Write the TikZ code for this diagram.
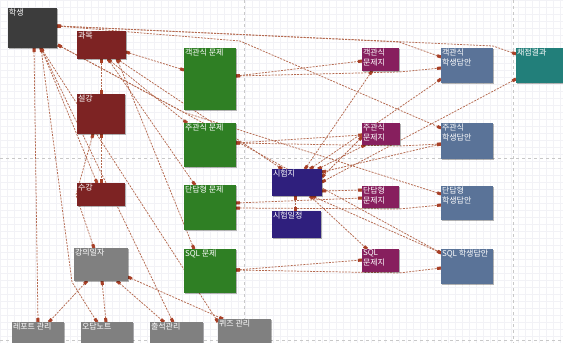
\documentclass[tikz,border=0pt]{standalone}
\usepackage{fontspec}
\newfontfamily\krfont{Noto Sans CJK KR}
\usetikzlibrary{arrows.meta,shadows,backgrounds}

\definecolor{stuc}{HTML}{3C3C3C}
\definecolor{subjc}{HTML}{7D2323}
\definecolor{greyc}{HTML}{808080}
\definecolor{greenc}{HTML}{2F7F24}
\definecolor{indigoc}{HTML}{2F1F7D}
\definecolor{purplec}{HTML}{871F5E}
\definecolor{bluec}{HTML}{5A7398}
\definecolor{tealc}{HTML}{227F7A}
\definecolor{linec}{HTML}{B4694F}
\definecolor{markc}{HTML}{A83F26}
\definecolor{gridc}{HTML}{F2F2F6}
\definecolor{pagec}{HTML}{C8C8C8}

\begin{document}
\begin{tikzpicture}[x=1pt,y=-1pt,
  ent/.style={rectangle, inner sep=0pt, outer sep=0pt, anchor=north west, draw=none,
    drop shadow={shadow xshift=1.3pt,shadow yshift=-1.3pt,opacity=0.3,fill=black}},
  tag/.style={font=\krfont\fontsize{8}{10}\selectfont, text=white, inner sep=0.8pt,
    align=left, anchor=north west},
  rel/.style={draw=linec, line width=0.75pt, dash pattern=on 2pt off 1.2pt,
    {Rectangle[length=4pt,width=3pt,color=markc]}-{Rectangle[length=4pt,width=3pt,color=markc]}}
]
\useasboundingbox (0,0) rectangle (563,343);
\clip (0,0) rectangle (563,343);

% canvas: faint grid and dashed page breaks
\begin{scope}[on background layer]
  \fill[white] (0,0) rectangle (563,343);
  \draw[gridc, line width=0.25pt] (0,0) grid[step=7pt] (563,343);
  \draw[pagec, dashed, line width=0.5pt] (244,0) -- (244,343);
  \draw[pagec, dashed, line width=0.5pt] (513,0) -- (513,343);
  \draw[pagec, dashed, line width=0.5pt] (0,158) -- (563,158);
  \draw[pagec, dashed, line width=0.5pt] (0,340) -- (563,340);
\end{scope}

% entities
\node[ent, fill=stuc, minimum width=49pt, minimum height=40pt, label={[tag]north west:학생}] (stu) at (8,8) {};
\node[ent, fill=subjc, minimum width=49pt, minimum height=28pt, label={[tag]north west:과목}] (gwa) at (77,31) {};
\node[ent, fill=subjc, minimum width=48pt, minimum height=40pt, label={[tag]north west:설강}] (seol) at (77,94) {};
\node[ent, fill=subjc, minimum width=48pt, minimum height=23pt, label={[tag]north west:수강}] (su) at (77,183) {};
\node[ent, fill=greyc, minimum width=54pt, minimum height=33pt, label={[tag]north west:강의일자}] (day) at (74,248) {};
\node[ent, fill=greyc, minimum width=52pt, minimum height=30pt, label={[tag]north west:레포트 관리}] (rep) at (12,322) {};
\node[ent, fill=greyc, minimum width=52pt, minimum height=30pt, label={[tag]north west:오답노트}] (odap) at (81,322) {};
\node[ent, fill=greyc, minimum width=53pt, minimum height=30pt, label={[tag]north west:출석관리}] (chul) at (150,322) {};
\node[ent, fill=greyc, minimum width=53pt, minimum height=30pt, label={[tag]north west:퀴즈 관리}] (quiz) at (218,319) {};

\node[ent, fill=greenc, minimum width=52pt, minimum height=62pt, label={[tag]north west:객관식 문제}] (q1) at (184,48) {};
\node[ent, fill=greenc, minimum width=52pt, minimum height=44pt, label={[tag]north west:주관식 문제}] (q2) at (184,123) {};
\node[ent, fill=greenc, minimum width=52pt, minimum height=45pt, label={[tag]north west:단답형 문제}] (q3) at (184,185) {};
\node[ent, fill=greenc, minimum width=52pt, minimum height=44pt, label={[tag]north west:SQL 문제}] (q4) at (184,249) {};

\node[ent, fill=indigoc, minimum width=50pt, minimum height=27pt, label={[tag]north west:시험지}] (exam) at (272,169) {};
\node[ent, fill=indigoc, minimum width=49pt, minimum height=27pt, label={[tag]north west:시험일정}] (sched) at (272,211) {};

\node[ent, fill=purplec, minimum width=37pt, minimum height=23pt, label={[tag]north west:{객관식\\문제지}}] (p1) at (362,48) {};
\node[ent, fill=purplec, minimum width=38pt, minimum height=22pt, label={[tag]north west:{주관식\\문제지}}] (p2) at (362,123) {};
\node[ent, fill=purplec, minimum width=37pt, minimum height=22pt, label={[tag]north west:{단답형\\문제지}}] (p3) at (362,186) {};
\node[ent, fill=purplec, minimum width=37pt, minimum height=23pt, label={[tag]north west:{SQL\\문제지}}] (p4) at (362,249) {};

\node[ent, fill=bluec, minimum width=52pt, minimum height=35pt, label={[tag]north west:{객관식\\학생답안}}] (a1) at (441,48) {};
\node[ent, fill=bluec, minimum width=52pt, minimum height=36pt, label={[tag]north west:{주관식\\학생답안}}] (a2) at (441,123) {};
\node[ent, fill=bluec, minimum width=52pt, minimum height=34pt, label={[tag]north west:{단답형\\학생답안}}] (a3) at (441,186) {};
\node[ent, fill=bluec, minimum width=52pt, minimum height=35pt, label={[tag]north west:SQL 학생답안}] (a4) at (441,249) {};

\node[ent, fill=tealc, minimum width=52pt, minimum height=35pt, label={[tag]north west:채점결과}] (score) at (516,48) {};

% relationships
\begin{scope}[on background layer]
  % course side
  \draw[rel] ([shift={(24,28)}]gwa.north west) -- ([shift={(24,0)}]seol.north west);
  \draw[rel] ([shift={(24,40)}]seol.north west) -- ([shift={(24,0)}]su.north west);
  \draw[rel] ([shift={(16,40)}]seol.north west) -- ([shift={(-1,12)}]su.north west) -- ([shift={(20,0)}]day.north west);
  \draw[rel] ([shift={(33,40)}]stu.north west) -- ([shift={(20,0)}]su.north west);
  \draw[rel] ([shift={(26,40)}]stu.north west) -- ([shift={(26,0)}]rep.north west);
  \draw[rel] ([shift={(33,40)}]stu.north west) -- ([shift={(-2,34)}]day.north west) -- ([shift={(16,0)}]odap.north west);
  \draw[rel] ([shift={(33,40)}]stu.north west) -- ([shift={(23,0)}]chul.north west);
  \draw[rel] ([shift={(33,40)}]stu.north west) -- ([shift={(0,3)}]quiz.north west);
  \draw[rel] ([shift={(13,33)}]day.north west) -- ([shift={(37,0)}]rep.north west);
  \draw[rel] ([shift={(28,33)}]day.north west) -- ([shift={(25,0)}]odap.north west);
  \draw[rel] ([shift={(43,33)}]day.north west) -- ([shift={(14,0)}]chul.north west);
  \draw[rel] ([shift={(54,29)}]day.north west) -- ([shift={(5,0)}]quiz.north west);

  % subject to questions and exam
  \draw[rel] ([shift={(49,21)}]gwa.north west) -- ([shift={(0,22)}]q1.north west);
  \draw[rel] ([shift={(31,28)}]gwa.north west) -- ([shift={(3,0)}]q2.north west);
  \draw[rel] ([shift={(31,28)}]gwa.north west) -- ([shift={(11,0)}]q3.north west);
  \draw[rel] ([shift={(40,28)}]gwa.north west) -- ([shift={(10,0)}]q4.north west);
  \draw[rel] ([shift={(40,28)}]gwa.north west) -- ([shift={(10,0)}]exam.north west);

  % student to answers and results
  \draw[rel] ([shift={(49,18)}]stu.north west) -- ([shift={(52,-2)}]a1.north west) -- ([shift={(0,6)}]score.north west);
  \draw[rel] ([shift={(49,18)}]stu.north west) -- ([shift={(37,-6)}]p1.north west) -- ([shift={(0,9)}]a1.north west);
  \draw[rel] ([shift={(49,18)}]stu.north west) -- ([shift={(56,-7)}]q1.north west) -- ([shift={(0,5)}]a2.north west);
  \draw[rel] ([shift={(50,37)}]stu.north west) -- ([shift={(-1,64)}]q1.north west) -- ([shift={(0,8)}]a3.north west);
  \draw[rel] ([shift={(50,37)}]stu.north west) -- ([shift={(-1,64)}]q1.north west) -- ([shift={(0,4)}]a4.north west);

  % questions to sheets and answers
  \draw[rel] ([shift={(52,28)}]q1.north west) -- ([shift={(0,13)}]p1.north west);
  \draw[rel] ([shift={(52,28)}]q1.north west) -- ([shift={(37,24)}]p1.north west) -- ([shift={(0,20)}]a1.north west);
  \draw[rel] ([shift={(52,20)}]q2.north west) -- ([shift={(0,12)}]p2.north west);
  \draw[rel] ([shift={(52,20)}]q2.north west) -- ([shift={(38,23)}]p2.north west) -- ([shift={(0,21)}]a2.north west);
  \draw[rel] ([shift={(52,18)}]q3.north west) -- ([shift={(0,12)}]p3.north west);
  \draw[rel] ([shift={(52,23)}]q3.north west) -- ([shift={(37,23)}]p3.north west) -- ([shift={(0,19)}]a3.north west);
  \draw[rel] ([shift={(52,21)}]q4.north west) -- ([shift={(0,11)}]p4.north west);
  \draw[rel] ([shift={(52,21)}]q4.north west) -- ([shift={(37,24)}]p4.north west) -- ([shift={(0,19)}]a4.north west);

  % exam sheet
  \draw[rel] ([shift={(33,0)}]exam.north west) -- ([shift={(10,23)}]p1.north west);
  \draw[rel] ([shift={(38,0)}]exam.north west) -- ([shift={(0,31)}]a1.north west);
  \draw[rel] ([shift={(46,0)}]exam.north west) -- ([shift={(3,22)}]p2.north west);
  \draw[rel] ([shift={(50,3)}]exam.north west) -- ([shift={(0,21)}]a2.north west);
  \draw[rel] ([shift={(50,8)}]exam.north west) -- ([shift={(0,14)}]p2.north west);
  \draw[rel] ([shift={(0,31)}]score.north west) -- ([shift={(50,13)}]exam.north west);
  \draw[rel] ([shift={(50,22)}]exam.north west) -- ([shift={(0,4)}]p3.north west);
  \draw[rel] ([shift={(23,27)}]exam.north west) -- ([shift={(23,0)}]sched.north west);
  \draw[rel] ([shift={(38,27)}]exam.north west) -- ([shift={(5,0)}]p4.north west);
  \draw[rel] ([shift={(40,27)}]exam.north west) -- ([shift={(0,4)}]a4.north west);
\end{scope}
\end{tikzpicture}
\end{document}
